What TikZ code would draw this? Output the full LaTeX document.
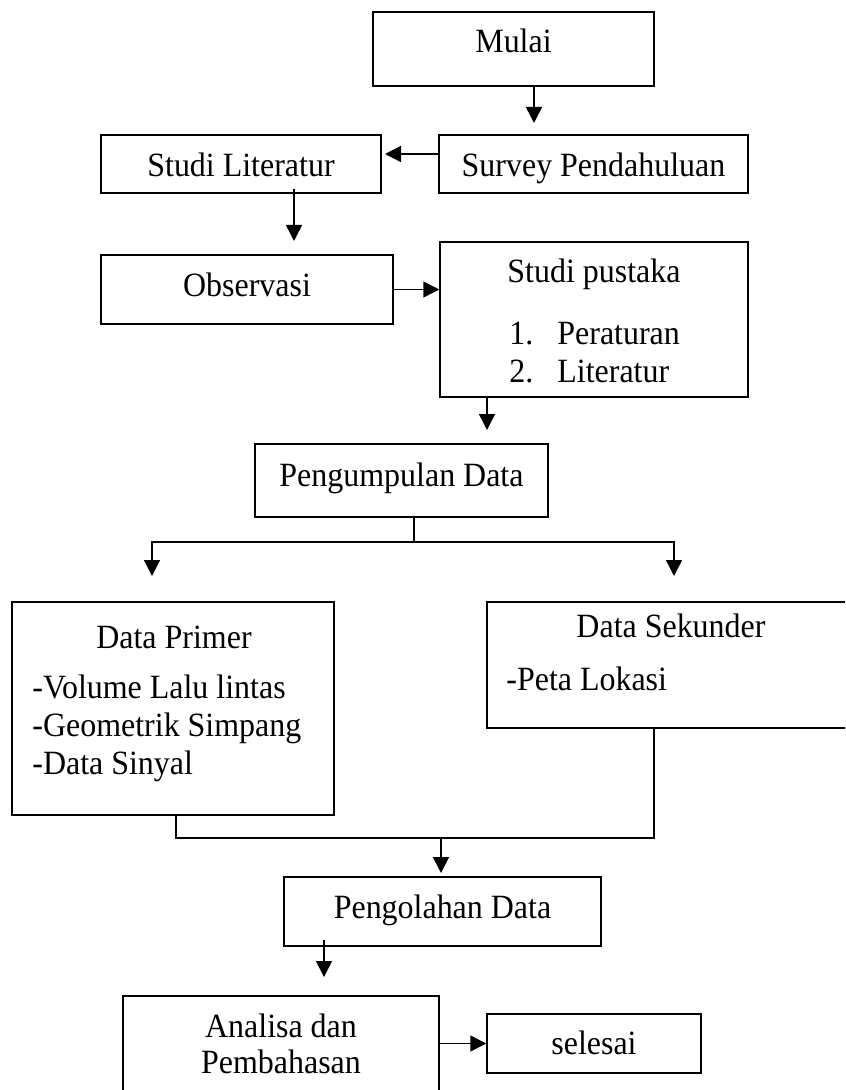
\documentclass[tikz,border=0pt]{standalone}
\usepackage{fontspec}
\setmainfont{Liberation Serif}[FakeStretch=0.94]
\usetikzlibrary{arrows.meta}

\tikzset{
  box/.style={draw, line width=0.75pt, inner sep=0pt},
  txt/.style={inner sep=0pt, anchor=base, font=\fontsize{17}{19}\selectfont},
  item/.style={txt, anchor=base west},
  arr/.style={line width=0.75pt, -{Triangle[length=8pt,width=8pt]}},
  link/.style={line width=0.75pt}
}

\begin{document}
\begin{tikzpicture}[x=0.5pt, y=-0.5pt]
    \useasboundingbox (0,0) rectangle (845,1090);
    \clip (0,0) rectangle (845,1090);

    % Boxes
    \node[box, minimum width=140.5pt, minimum height=37pt]   (mulai)     at (513.5,49)   {};
    \node[box, minimum width=140pt,   minimum height=29pt]   (studilit)  at (241,164)    {};
    \node[box, minimum width=154.5pt, minimum height=29pt]   (survey)    at (593.5,164)  {};
    \node[box, minimum width=146pt,   minimum height=34.5pt] (observasi) at (247,289.5)  {};
    \node[box, minimum width=154pt,   minimum height=77.5pt] (pustaka)   at (594,319.5)  {};
    \node[box, minimum width=146.5pt, minimum height=36.5pt] (kumpul)    at (401.5,480.5) {};
    \node[box, minimum width=161pt,   minimum height=106.5pt] (primer)   at (173,708.5)  {};
    \node[box, minimum width=191.5pt, minimum height=63pt]   (sekunder)  at (678.5,665)  {};
    \node[box, minimum width=158.5pt, minimum height=34.5pt] (olah)      at (442.5,911.5) {};
    \node[box, minimum width=158pt,   minimum height=57pt]   (analisa)   at (281,1053)   {};
    \node[box, minimum width=107pt,   minimum height=29.5pt] (selesai)   at (594,1043.5) {};

    % Texts
    \node[txt] (mulai-t)     at (513.5,53)  {Mulai};
    \node[txt] (studilit-t)  at (241,177)   {Studi Literatur};
    \node[txt] (survey-t)    at (593.5,177) {Survey Pendahuluan};
    \node[txt] (observasi-t) at (247,297)   {Observasi};
    \node[txt] (pustaka-t)   at (594,283)   {Studi pustaka};
    \foreach \t [count=\i] in {Peraturan, Literatur} {
        \node[item] (pustaka-n\i) at (509,307+38*\i) {\i.};
        \node[item] (pustaka-\i)  at (557,307+38*\i) {\t};
    }
    \node[txt] (kumpul-t)    at (401.5,486) {Pengumpulan Data};
    \node[txt] (primer-t)    at (174,648)   {Data Primer};
    \foreach \t [count=\i] in {-Volume Lalu lintas, -Geometrik Simpang, -Data Sinyal} {
        \node[item] (primer-\i) at (32,660+38*\i) {\t};
    }
    \node[txt]  (sekunder-t) at (671,637)   {Data Sekunder};
    \node[item] (sekunder-1) at (506,690)   {-Peta Lokasi};
    \node[txt] (olah-t)      at (442.5,918) {Pengolahan Data};
    \node[txt] (analisa-t1)  at (281,1037)  {Analisa dan};
    \node[txt] (analisa-t2)  at (281,1073)  {Pembahasan};
    \node[txt] (selesai-t)   at (594,1054)  {selesai};

    % Free ends of the arrows
    \coordinate (survey-in)   at (534,123);
    \coordinate (lit-in)      at (385,154);
    \coordinate (obs-in)      at (294,241);
    \coordinate (kumpul-in)   at (487,430);
    \coordinate (split)       at (414,542);
    \coordinate (primer-in)   at (152,576);
    \coordinate (sekunder-in) at (674,576);
    \coordinate (merge-l)     at (176,838);
    \coordinate (merge-r)     at (654,838);
    \coordinate (olah-in)     at (441,873);
    \coordinate (analisa-in)  at (324,977);

    % Arrows
    \draw[arr] (mulai.south -| survey-in) -- (survey-in);
    \draw[arr] (survey.west |- lit-in) -- (lit-in);
    \draw[arr] ([yshift=2.5pt]studilit.south -| obs-in) -- (obs-in);
    \draw[arr] (observasi.east) -- (observasi.east -| pustaka.west);
    \draw[arr] (pustaka.south -| kumpul-in) -- (kumpul-in);
    \draw[link] (kumpul.south -| split) -- (split);
    \draw[arr] (split) -| (primer-in);
    \draw[arr] (split) -| (sekunder-in);
    \draw[link] (primer.south -| merge-l) -- (merge-l) -- (merge-r) -- (sekunder.south -| merge-r);
    \draw[arr] (merge-l -| olah-in) -- (olah-in);
    \draw[arr] ([yshift=3.5pt]olah.south -| analisa-in) -- (analisa-in);
    \draw[arr] (analisa.east |- selesai.west) -- (selesai.west);
\end{tikzpicture}
\end{document}
